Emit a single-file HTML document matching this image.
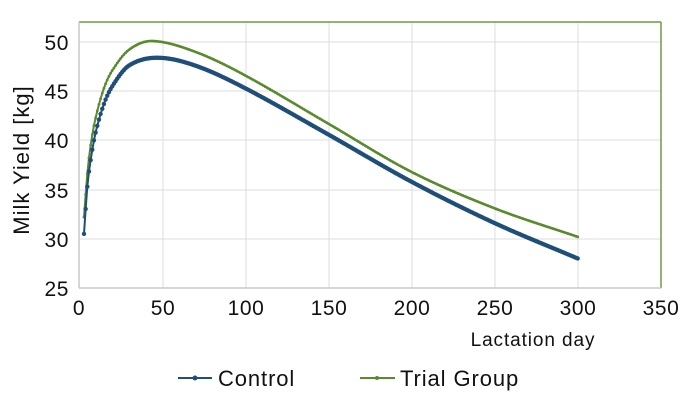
<!DOCTYPE html>
<html><head><meta charset="utf-8"><style>
body{margin:0;background:#fff;}
svg text{font-family:"Liberation Sans",Arial,sans-serif;fill:#111;}
</style></head><body>
<svg id="s" width="696" height="413" xmlns="http://www.w3.org/2000/svg">
<g stroke="#dcdcdc" stroke-width="1">
<line x1="163" y1="22" x2="163" y2="288"/><line x1="246" y1="22" x2="246" y2="288"/>
<line x1="329" y1="22" x2="329" y2="288"/><line x1="412" y1="22" x2="412" y2="288"/>
<line x1="495" y1="22" x2="495" y2="288"/><line x1="578" y1="22" x2="578" y2="288"/>
<line x1="79" y1="42" x2="661" y2="42"/><line x1="79" y1="91" x2="661" y2="91"/>
<line x1="79" y1="140" x2="661" y2="140"/><line x1="79" y1="190" x2="661" y2="190"/>
<line x1="79" y1="239" x2="661" y2="239"/>
</g>
<line x1="79" y1="22" x2="661" y2="22" stroke="#6f9a4a" stroke-width="1.5"/>
<line x1="661" y1="22" x2="661" y2="288" stroke="#6f9a4a" stroke-width="1.5"/>
<line x1="79" y1="22" x2="79" y2="288" stroke="#c8c8c8" stroke-width="1.5"/>
<line x1="79" y1="288" x2="661" y2="288" stroke="#c8c8c8" stroke-width="1.5"/>
<g font-size="21" text-anchor="end" letter-spacing="0.6">
<text x="69" y="50">50</text><text x="69" y="99">45</text><text x="69" y="148">40</text>
<text x="69" y="198">35</text><text x="69" y="247">30</text><text x="69" y="296">25</text>
</g>
<g font-size="21" text-anchor="middle" letter-spacing="0.6">
<text x="79" y="315">0</text><text x="163" y="315">50</text><text x="246" y="315">100</text>
<text x="329" y="315">150</text><text x="412" y="315">200</text><text x="495" y="315">250</text>
<text x="578" y="315">300</text><text x="661" y="315">350</text>
</g>
<text x="533" y="346" font-size="19" letter-spacing="0.9" text-anchor="middle">Lactation day</text>
<text transform="translate(29,160) rotate(-90)" font-size="22" letter-spacing="1" text-anchor="middle">Milk Yield [kg]</text>
<g id="curves"></g>
<line x1="178" y1="378" x2="212" y2="378" stroke="#1f4e79" stroke-width="2"/>
<circle cx="195" cy="378" r="2.5" fill="#1f4e79"/>
<text x="218" y="386" font-size="22" letter-spacing="0.9">Control</text>
<line x1="360" y1="378" x2="395" y2="378" stroke="#5a8a2e" stroke-width="2"/>
<circle cx="377" cy="378" r="2" fill="#5a8a2e"/>
<text x="400" y="386" font-size="22" letter-spacing="0.9">Trial Group</text>
</svg>
<script>
function X(d){return 79+d*1.6623;}
function Y(v){return 288-(v-25)*9.84;}
var C=[[3,30.5],[5,35.3],[7,38],[10,40.8],[15,43.7],[20,45.5],[30,47.6],[47,48.4],[70,47.6],[100,45.3],[150,40.6],[200,35.8],[250,31.6],[300,28.0]];
var T=[[3,32.2],[5,36.6],[7,39.5],[10,42.3],[15,45.3],[20,47.1],[30,49.2],[44,50.1],[70,49.0],[100,46.6],[150,41.7],[200,36.8],[250,33.1],[300,30.2]];
function interp(P,d){
 for(var i=0;i<P.length-1;i++){ if(d<=P[i+1][0]){
  var p0=P[Math.max(i-1,0)],p1=P[i],p2=P[i+1],p3=P[Math.min(i+2,P.length-1)];
  var t=(d-p1[0])/(p2[0]-p1[0]);
  var m1=(p2[1]-p0[1])/(p2[0]-p0[0])*(p2[0]-p1[0]);
  var m2=(p3[1]-p1[1])/(p3[0]-p1[0])*(p2[0]-p1[0]);
  var t2=t*t,t3=t2*t;
  return (2*t3-3*t2+1)*p1[1]+(t3-2*t2+t)*m1+(-2*t3+3*t2)*p2[1]+(t3-t2)*m2;}}
 return P[P.length-1][1];}
var g=document.getElementById('curves'),ns='http://www.w3.org/2000/svg';
function draw(P,col,w,r){
 var d='';for(var i=3;i<=300;i++){d+=(i==3?'M':'L')+X(i).toFixed(2)+','+Y(interp(P,i)).toFixed(2);}
 var p=document.createElementNS(ns,'path');p.setAttribute('d',d);p.setAttribute('fill','none');p.setAttribute('stroke',col);p.setAttribute('stroke-width',w);g.appendChild(p);
 for(var i=3;i<=300;i++){var c=document.createElementNS(ns,'circle');c.setAttribute('cx',X(i));c.setAttribute('cy',Y(interp(P,i)));c.setAttribute('r',r);c.setAttribute('fill',col);g.appendChild(c);}
}
draw(T,'#5a8a2e',2,1.4);
draw(C,'#1f4e79',2,2.2);
</script>
</body></html>
